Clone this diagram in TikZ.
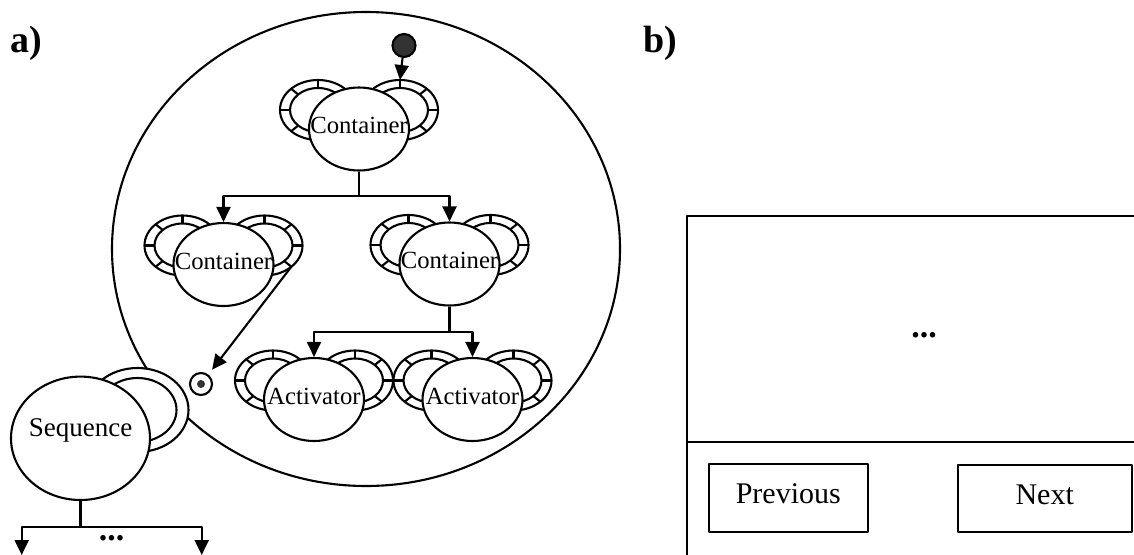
\documentclass[tikz,border=0pt]{standalone}
\usepackage{fontspec}
\setmainfont{Liberation Serif}
\usetikzlibrary{arrows.meta,shapes.geometric,calc}
\definecolor{dk}{HTML}{333333}
\tikzset{
  ln/.style={line width=2.1pt, line join=round},
  arr/.style={ln, -{Triangle[length=15pt,width=14pt]}},
  mainell/.style={ellipse, draw, ln, fill=white, minimum width=100pt, minimum height=83pt, inner sep=0pt},
  lbl/.style={font=\fontsize{24.7}{28}\selectfont, inner sep=0pt, anchor=base},
  btxt/.style={font=\fontsize{30}{34}\selectfont, inner sep=0pt, anchor=base},
  dots/.style={font=\fontsize{34}{38}\selectfont\bfseries, inner sep=0pt, anchor=base},
  panel/.style={font=\fontsize{38}{42}\selectfont\bfseries, inner sep=0pt, anchor=base west},
  button/.style={draw, ln, rectangle, inner sep=0pt},
}
\newcommand\TickRing[2]{%
  \begin{scope}[shift={(#1,#2)}]
    \draw[ln, fill=white] (0,0) ellipse [x radius=38, y radius=30];
    \draw[ln] (0,0) ellipse [x radius=28, y radius=22];
    \foreach \a in {0,45,...,315} \draw[ln] (\a:28 and 22) -- (\a:38 and 30);
  \end{scope}}
\newcommand\CompNode[4]{%
  \TickRing{#2-41}{#3-19}
  \TickRing{#2+41}{#3-19}
  \node[mainell] (#1) at (#2,#3) {};
  \node[lbl] (#1t) at (#2,#3+4.5) {#4};}
\begin{document}
\begin{tikzpicture}[x=1pt,y=-1pt]
\useasboundingbox (0,0) rectangle (1134,554);
\clip (0,0) rectangle (1134,554);

% panel labels
\node[panel] (la) at (10,52) {a)};
\node[panel] (lb) at (643,52) {b)};

% big region
\node[draw, ln, ellipse, minimum width=508pt, minimum height=474pt, inner sep=0pt] (region) at (366,249) {};

% sequence
\begin{scope}[shift={(137.5,410)}]
  \draw[ln, fill=white] (0,0) ellipse [x radius=51, y radius=42];
  \draw[ln] (0,0) ellipse [x radius=39, y radius=32];
\end{scope}
\node[mainell, minimum width=139pt, minimum height=123.4pt] (S) at (80.5,438.3) {};
\node[font=\fontsize{27}{30}\selectfont, inner sep=0pt, anchor=base] (St) at (80.5,436) {Sequence};

% components
\CompNode{C0}{359}{129}{Container}
\CompNode{C1}{223.5}{264.5}{Container}
\CompNode{C2}{449.5}{264}{Container}
\CompNode{A1}{314}{399.5}{Activator}
\CompNode{A2}{472.5}{399.5}{Activator}

% start and end
\node[circle, draw, ln, fill=dk, minimum size=23pt, inner sep=0pt] (start) at (404,45.5) {};
\node[circle, draw, ln, fill=white, minimum size=22pt, inner sep=0pt] (fin) at (201,384) {};
\node[circle, fill=dk, minimum size=8pt, inner sep=0pt] (findot) at (fin) {};

% connectors
\coordinate (C0rt) at (400,80);
\draw[arr] (start) -- (C0rt);
\coordinate (j0) at (359,196);
\draw[ln] (C0.south) -- (j0);
\draw[arr] (j0) -| (C1.north);
\draw[arr] (j0) -| (C2.north);
\coordinate (j2) at (449.5,332);
\draw[ln] (C2.south) -- (j2);
\draw[arr] (j2) -| (A1.north);
\draw[arr] (j2) -| (A2.north);
\coordinate (C1r) at ($(264.5,245.5)+(45:38 and 30)$);
\draw[arr, shorten >=6pt] (C1r) -- (fin);

\coordinate (sj) at (80.5,527);
\coordinate (s1) at (21.7,555);
\coordinate (s2) at (201.7,555);
\draw[ln] (S.south) -- (sj);
\draw[arr] (sj) -| (s1);
\draw[arr] (sj) -| (s2);
\node[dots] (sdots) at (111.7,540) {...};

% panel b
\coordinate (wtl) at (686.7,216);
\draw[ln] (686.7,570) -- (wtl) -- (1150,216);
\draw[ln] (686.7,442.3) -- (1150,442.3);
\node[dots] (bdots) at (924,337.5) {...};
\node[button, minimum width=159pt, minimum height=67.7pt] (prev) at (788.8,497.85) {};
\node[btxt] (prevt) at (788.3,503.3) {Previous};
\node[button, minimum width=174pt, minimum height=67.3pt] (next) at (1044.7,498.65) {};
\node[btxt] (nextt) at (1044.7,504) {Next};
\end{tikzpicture}
\end{document}
